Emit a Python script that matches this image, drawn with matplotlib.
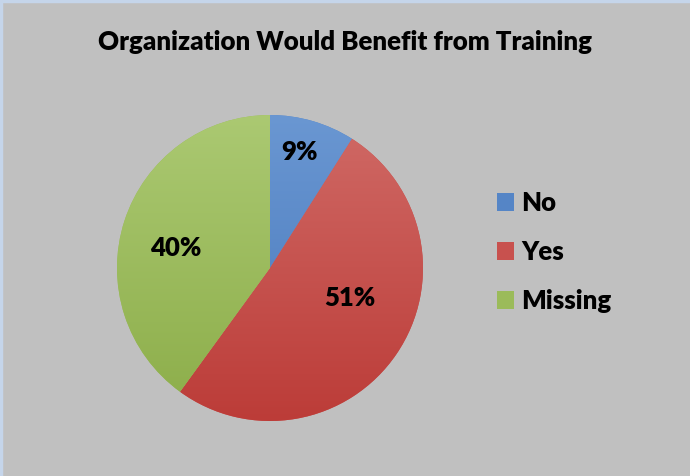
import matplotlib
matplotlib.use("Agg")
import matplotlib.pyplot as plt
import numpy as np
from matplotlib.colors import LinearSegmentedColormap
from matplotlib.lines import Line2D
from matplotlib.patches import Rectangle

TITLE = "Organization Would Benefit from Training"
CATEGORIES = ["No", "Yes", "Missing"]
SHARES = [9, 51, 40]

# light/dark ends of each slice's vertical gradient
COLORS_LIGHT = ["#6a97d2", "#d06a66", "#abc972"]
COLORS_DARK = ["#4677bb", "#bc3c38", "#8cad49"]
COLORS_MID = ["#5585c6", "#c8514e", "#9bbb5a"]

# where each percentage sits: fraction of radius, angle shift from the bisector
LABEL_RADIUS = [0.78, 0.56, 0.63]
LABEL_SHIFT = [1.7, 13.6, 6.0]

BG = "#c0c0c0"
FONT = ["Lato", "DejaVu Sans"]

W, H = 690, 476
fig = plt.figure(figsize=(W / 100, H / 100), dpi=100)
fig.patch.set_facecolor(BG)

# thin chart-area border on the top and left edges
fig.add_artist(Line2D([0, 1], [0.998, 0.998], color="#c5d5ea", lw=2.5, transform=fig.transFigure))
fig.add_artist(Line2D([0.0015, 0.0015], [0, 1], color="#c5d5ea", lw=2.5, transform=fig.transFigure))

fig.text(0.5, 1 - 42 / H, TITLE, ha="center", va="center", fontsize=18.6,
         fontweight="heavy", family=FONT, color="black")

cx, cy, r = 270, 268, 153
ax = fig.add_axes([(cx - r) / W, (H - cy - r) / H, 2 * r / W, 2 * r / H])
ax.set_facecolor("none")

wedges, _ = ax.pie(SHARES, startangle=90, counterclock=False, radius=1,
                   colors=COLORS_MID, wedgeprops=dict(linewidth=0))
ax.set_xlim(-1, 1)
ax.set_ylim(-1, 1)

# gradient fill clipped to each wedge
grad = np.linspace(1, 0, 256).reshape(-1, 1)
for w, c0, c1 in zip(wedges, COLORS_LIGHT, COLORS_DARK):
    cmap = LinearSegmentedColormap.from_list("g", [c1, c0])
    im = ax.imshow(grad, cmap=cmap, extent=[-1, 1, -1, 1], origin="upper",
                   aspect="auto", zorder=w.get_zorder() + 0.1, vmin=0, vmax=1)
    im.set_clip_path(w)

total = sum(SHARES)
for w, v, rf, sh in zip(wedges, SHARES, LABEL_RADIUS, LABEL_SHIFT):
    mid = np.deg2rad((w.theta1 + w.theta2) / 2 + sh)
    ax.text(rf * np.cos(mid), rf * np.sin(mid), "{}%".format(round(100 * v / total)),
            ha="center", va="center", fontsize=18.5, fontweight="heavy",
            family=FONT, zorder=10)

handles = [Rectangle((0, 0), 1, 1, facecolor=c, edgecolor="none") for c in COLORS_MID]
leg = fig.legend(handles, CATEGORIES, loc="center left",
                 bbox_to_anchor=(474 / W, 1 - 252 / H), frameon=False,
                 prop=dict(family=FONT, weight="heavy", size=18.5),
                 handlelength=0.67, handleheight=0.67, handletextpad=0.28,
                 labelspacing=0.98)

fig.savefig("out.png", dpi=100, facecolor=BG)
